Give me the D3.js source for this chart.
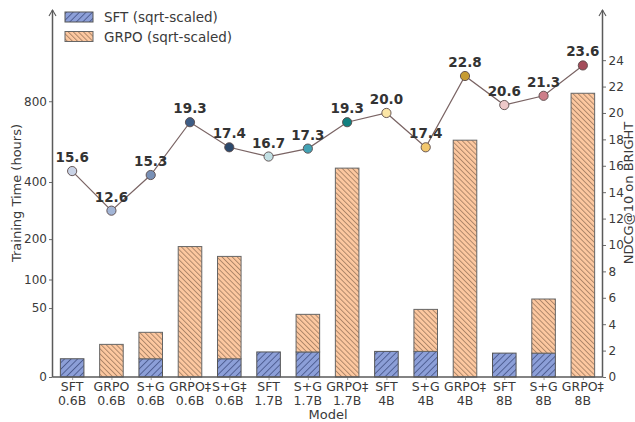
<!DOCTYPE html>
<html>
<head>
<meta charset="utf-8">
<script src="https://cdn.jsdelivr.net/npm/d3@7"></script>
<style>
  html, body { margin: 0; padding: 0; background: #fff; }
  svg { display: block; font-family: "DejaVu Sans", sans-serif; }
</style>
</head>
<body>
<svg id="chart" width="635" height="422"></svg>
<script>
// Model variants along the x axis (two-line labels)
const modelNames = ["SFT", "GRPO", "S+G", "GRPO‡", "S+G‡", "SFT", "S+G", "GRPO‡", "SFT", "S+G", "GRPO‡", "SFT", "S+G", "GRPO‡"];
const modelSizes = ["0.6B", "0.6B", "0.6B", "0.6B", "0.6B", "1.7B", "1.7B", "1.7B", "4B", "4B", "4B", "8B", "8B", "8B"];

// Training time in hours (stacked: SFT stage then GRPO stage)
const sftHours  = [3.5, 0, 3.5, 0, 3.5, 6.6, 6.6, 0, 6.9, 6.9, 0, 6.0, 6.0, 0];
const grpoHours = [0, 11.2, 17.5, 179, 149.5, 0, 34.7, 459, 0, 41.2, 590, 0, 58, 847];

// NDCG@10 on BRIGHT per model
const ndcg = [15.6, 12.6, 15.3, 19.3, 17.4, 16.7, 17.3, 19.3, 20.0, 17.4, 22.8, 20.6, 21.3, 23.6];
const pointColors = ["#c9d3e6", "#a2b5d6", "#7890b6", "#3e5d86", "#2c496c", "#c2e0e4", "#43a2b4", "#11807f",
                     "#fbe6a6", "#f2c76e", "#c69c33", "#eec8c8", "#cd7e89", "#a44c5a"];

// Axis ticks
const timeTicks = [0, 50, 100, 200, 400, 800];
const ndcgTicks = [0, 2, 4, 6, 8, 10, 12, 14, 16, 18, 20, 22, 24];

const svg = d3.select("#chart");
const plotL = 52.5, plotR = 602.5, plotB = 377, plotT = 10;
const axisColor = "#5a5a5a", textColor = "#3a3a3a";

const x = d3.scalePoint().domain(d3.range(modelNames.length)).range([plotL, plotR]).padding(0.5);
const barW = x.step() * 0.6;
const yTime = d3.scaleSqrt().domain([0, 1417]).range([plotB, plotT]);
const yScore = d3.scaleLinear().domain([0, 27.8]).range([plotB, plotT]);

// Hatch patterns
const defs = svg.append("defs");
function hatch(id, fill, stroke, spacing, angle, sw) {
  const p = defs.append("pattern").attr("id", id)
    .attr("patternUnits", "userSpaceOnUse")
    .attr("width", spacing).attr("height", 10)
    .attr("patternTransform", `rotate(${angle})`);
  p.append("rect").attr("width", spacing).attr("height", 10).attr("fill", fill);
  p.append("line").attr("x1", 0.5).attr("x2", 0.5).attr("y1", 0).attr("y2", 10)
    .attr("stroke", stroke).attr("stroke-width", sw);
}
hatch("hSft", "#8c9fd8", "#46558a", 4.6, 45, 0.9);
hatch("hGrpo", "#fdc8a0", "#98745a", 3.6, -45, 0.8);

// Bars
const bars = svg.append("g");
modelNames.forEach((_, i) => {
  const x0 = x(i) - barW / 2;
  if (sftHours[i] > 0) {
    bars.append("rect").attr("x", x0).attr("width", barW)
      .attr("y", yTime(sftHours[i])).attr("height", plotB - yTime(sftHours[i]))
      .attr("fill", "url(#hSft)").attr("stroke", "#555").attr("stroke-width", 1);
  }
  if (grpoHours[i] > 0) {
    const b = sftHours[i], t = sftHours[i] + grpoHours[i];
    bars.append("rect").attr("x", x0).attr("width", barW)
      .attr("y", yTime(t)).attr("height", yTime(b) - yTime(t))
      .attr("fill", "url(#hGrpo)").attr("stroke", "#666").attr("stroke-width", 1);
  }
});

// Axes
function styleAxis(g) {
  g.selectAll(".domain").remove();
  g.selectAll(".tick line").attr("stroke", axisColor).attr("stroke-width", 0.9);
  g.selectAll(".tick text").attr("fill", textColor).attr("font-family", "DejaVu Sans");
}
svg.append("g").attr("transform", `translate(${plotL},0)`)
  .call(d3.axisLeft(yTime).tickValues(timeTicks).tickFormat(d3.format("d")).tickSize(3.5).tickPadding(2))
  .call(styleAxis).selectAll("text").attr("font-size", 12);
svg.append("g").attr("transform", `translate(${plotR},0)`)
  .call(d3.axisRight(yScore).tickValues(ndcgTicks).tickSize(3.5).tickPadding(2.5))
  .call(styleAxis).selectAll("text").attr("font-size", 12);

const xa = svg.append("g").attr("transform", `translate(0,${plotB})`)
  .call(d3.axisBottom(x).tickSize(3).tickFormat(""))
  .call(styleAxis);
xa.selectAll(".tick line").attr("stroke", "#999");
const xl = svg.append("g").attr("fill", textColor).attr("font-size", 12.5).attr("text-anchor", "middle");
modelNames.forEach((n, i) => {
  xl.append("text").attr("x", x(i)).attr("y", 391).text(n);
  xl.append("text").attr("x", x(i)).attr("y", 405).text(modelSizes[i]);
});

// Spines with arrow tips
const spines = svg.append("g").attr("stroke", axisColor).attr("stroke-width", 1.5).attr("fill", "none");
spines.append("line").attr("x1", plotL).attr("x2", plotR).attr("y1", plotB).attr("y2", plotB);
[plotL, plotR].forEach(sx => {
  spines.append("line").attr("x1", sx).attr("x2", sx).attr("y1", plotB).attr("y2", plotT);
  spines.append("path").attr("d", `M${sx - 3.5},${plotT + 6} L${sx},${plotT} L${sx + 3.5},${plotT + 6}`)
    .attr("stroke-width", 1.1);
});

// Axis titles
svg.append("text").attr("x", 328).attr("y", 419).attr("text-anchor", "middle")
  .attr("font-size", 13).attr("fill", textColor).text("Model");
svg.append("text").attr("transform", "translate(21,193) rotate(-90)").attr("text-anchor", "middle")
  .attr("font-size", 13).attr("fill", textColor).text("Training Time (hours)");
svg.append("text").attr("transform", "translate(633,193) rotate(-90)").attr("text-anchor", "middle")
  .attr("font-size", 13).attr("fill", textColor).text("NDCG@10 on BRIGHT");

// Score line and markers
const line = d3.line().x((d, i) => x(i)).y(d => yScore(d));
svg.append("path").datum(ndcg).attr("d", line)
  .attr("fill", "none").attr("stroke", "#7a6464").attr("stroke-width", 1.2);
svg.append("g").selectAll("circle").data(ndcg).join("circle")
  .attr("cx", (d, i) => x(i)).attr("cy", d => yScore(d)).attr("r", 4.6)
  .attr("fill", (d, i) => pointColors[i]).attr("stroke", "#5a4a4a").attr("stroke-width", 0.9);
svg.append("g").selectAll("text").data(ndcg).join("text")
  .attr("x", (d, i) => x(i)).attr("y", d => yScore(d) - 9)
  .attr("text-anchor", "middle").attr("font-size", 13.5).attr("font-weight", "bold")
  .attr("fill", "#333").text(d => d.toFixed(1));

// Legend
const lg = svg.append("g");
[["hSft", "SFT (sqrt-scaled)", "#555"], ["hGrpo", "GRPO (sqrt-scaled)", "#666"]].forEach((e, k) => {
  const ly = 12 + k * 19.5;
  lg.append("rect").attr("x", 65).attr("y", ly).attr("width", 28).attr("height", 10)
    .attr("fill", `url(#${e[0]})`).attr("stroke", e[2]).attr("stroke-width", 1);
  lg.append("text").attr("x", 104).attr("y", ly + 10).attr("font-size", 13.5)
    .attr("fill", textColor).text(e[1]);
});
</script>
</body>
</html>
